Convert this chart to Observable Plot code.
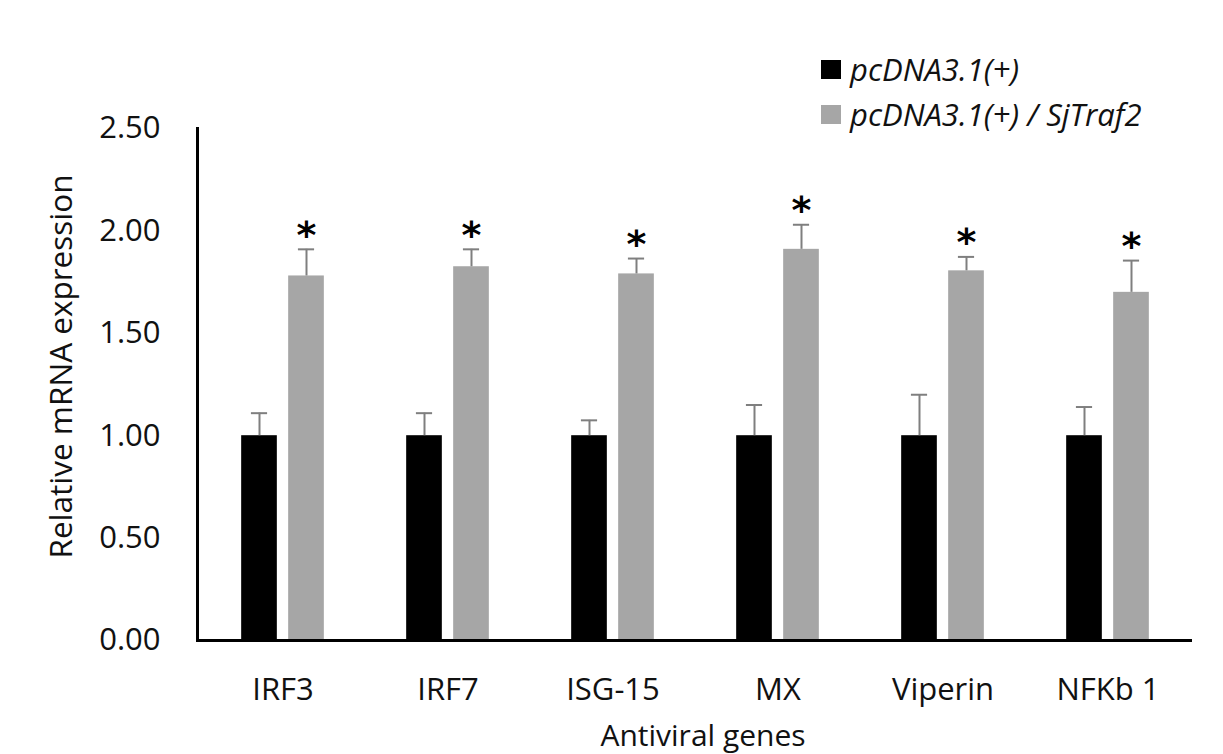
<!DOCTYPE html>
<html>
<head>
<meta charset="utf-8">
<script src="https://cdn.jsdelivr.net/npm/d3@7"></script>
<script src="https://cdn.jsdelivr.net/npm/@observablehq/plot@0.6"></script>
<style>
  html, body { margin: 0; padding: 0; background: #fff; }
  #wrap { position: relative; width: 1223px; height: 754px; overflow: hidden; font-family: "Open Sans", sans-serif; }
  #legend { position: absolute; left: 821px; top: 47px; font-style: italic; font-size: 31px; color: #111; line-height: 45px; }
  #legend .row { display: flex; align-items: center; white-space: nowrap; }
  #legend .sw { display: inline-block; width: 20px; height: 19px; margin-right: 9px; }
</style>
</head>
<body>
<div id="wrap"><div id="legend"></div></div>
<script>
// ---- data ----
const genes = ["IRF3", "IRF7", "ISG-15", "MX", "Viperin", "NFKb 1"];
const seriesNames = ["pcDNA3.1(+)", "pcDNA3.1(+) / SjTraf2"];
const seriesColors = ["#000000", "#a6a6a6"];
const controlMean = [1.00, 1.00, 1.00, 1.00, 1.00, 1.00];
const controlErr  = [0.11, 0.11, 0.075, 0.15, 0.20, 0.14];
const trafMean    = [1.78, 1.825, 1.79, 1.91, 1.805, 1.70];
const trafErr     = [0.13, 0.085, 0.075, 0.12, 0.068, 0.155];
const significant = [true, true, true, true, true, true];
const yTicks = [0, 0.5, 1.0, 1.5, 2.0, 2.5];
const xTitle = "Antiviral genes";
const yTitle = "Relative mRNA expression";

// ---- table ----
const rows = [];
genes.forEach((g, i) => {
  rows.push({gene: g, series: seriesNames[0], value: controlMean[i], err: controlErr[i], sig: false});
  rows.push({gene: g, series: seriesNames[1], value: trafMean[i], err: trafErr[i], sig: significant[i]});
});
const ctrl = rows.filter(d => d.series === seriesNames[0]);
const traf = rows.filter(d => d.series === seriesNames[1]);

// ---- layout ----
const W = 1223, H = 754, mL = 197, mR = 31, mT = 128, mB = 114;
const step = (W - mL - mR) / genes.length;
const barW = 36.5, off = 23.5, capW = 17;
const cBlack = step / 2 - off, cGray = step / 2 + off;
const errColor = "#7f7f7f";

const chart = Plot.plot({
  width: W, height: H,
  marginLeft: mL, marginRight: mR, marginTop: mT, marginBottom: mB,
  style: {fontFamily: "'Open Sans', sans-serif", background: "#fff", color: "#111"},
  x: {domain: genes, padding: 0},
  y: {domain: [0, 2.5]},
  color: {domain: seriesNames, range: seriesColors},
  marks: [
    Plot.barY(ctrl, {x: "gene", y: "value", fill: "series", insetLeft: cBlack - barW / 2, insetRight: step - cBlack - barW / 2}),
    Plot.barY(traf, {x: "gene", y: "value", fill: "series", insetLeft: cGray - barW / 2, insetRight: step - cGray - barW / 2}),
    Plot.ruleX(ctrl, {x: "gene", y1: "value", y2: d => d.value + d.err, dx: -off, stroke: errColor, strokeWidth: 2}),
    Plot.ruleX(traf, {x: "gene", y1: "value", y2: d => d.value + d.err, dx: off, stroke: errColor, strokeWidth: 2}),
    Plot.tickY(ctrl, {x: "gene", y: d => d.value + d.err, insetLeft: cBlack - capW / 2, insetRight: step - cBlack - capW / 2, stroke: errColor, strokeWidth: 2}),
    Plot.tickY(traf, {x: "gene", y: d => d.value + d.err, insetLeft: cGray - capW / 2, insetRight: step - cGray - capW / 2, stroke: errColor, strokeWidth: 2}),
    Plot.text(traf.filter(d => d.sig), {x: "gene", y: d => d.value + d.err, text: () => "*", dx: off, dy: -14, fontSize: 38, fontWeight: "bold", fill: "#000", fontFamily: "'DejaVu Sans'"}),
    Plot.axisY({ticks: yTicks, tickFormat: d3.format(".2f"), tickSize: 0, tickPadding: 37, fontSize: 31, label: null}),
    Plot.axisX({tickSize: 0, tickPadding: 37, fontSize: 31, label: null}),
    Plot.text([yTitle], {frameAnchor: "left", textAnchor: "middle", rotate: -90, dx: -136, dy: -18, fontSize: 31.5, fill: "#111", lineAnchor: "middle"}),
    Plot.text([xTitle], {frameAnchor: "bottom", textAnchor: "middle", dx: 8, dy: 96, fontSize: 30, fill: "#111", lineAnchor: "middle"}),
    Plot.ruleY([0], {stroke: "#000", strokeWidth: 3}),
    Plot.frame({anchor: "left", stroke: "#000", strokeWidth: 3})
  ]
});
const wrap = document.getElementById("wrap");
wrap.appendChild(chart);

const legend = document.getElementById("legend");
seriesNames.forEach((name, i) => {
  const row = document.createElement("div");
  row.className = "row";
  const sw = document.createElement("span");
  sw.className = "sw";
  sw.style.background = seriesColors[i];
  const t = document.createElement("span");
  t.textContent = name;
  row.appendChild(sw); row.appendChild(t);
  legend.appendChild(row);
});
</script>
</body>
</html>
